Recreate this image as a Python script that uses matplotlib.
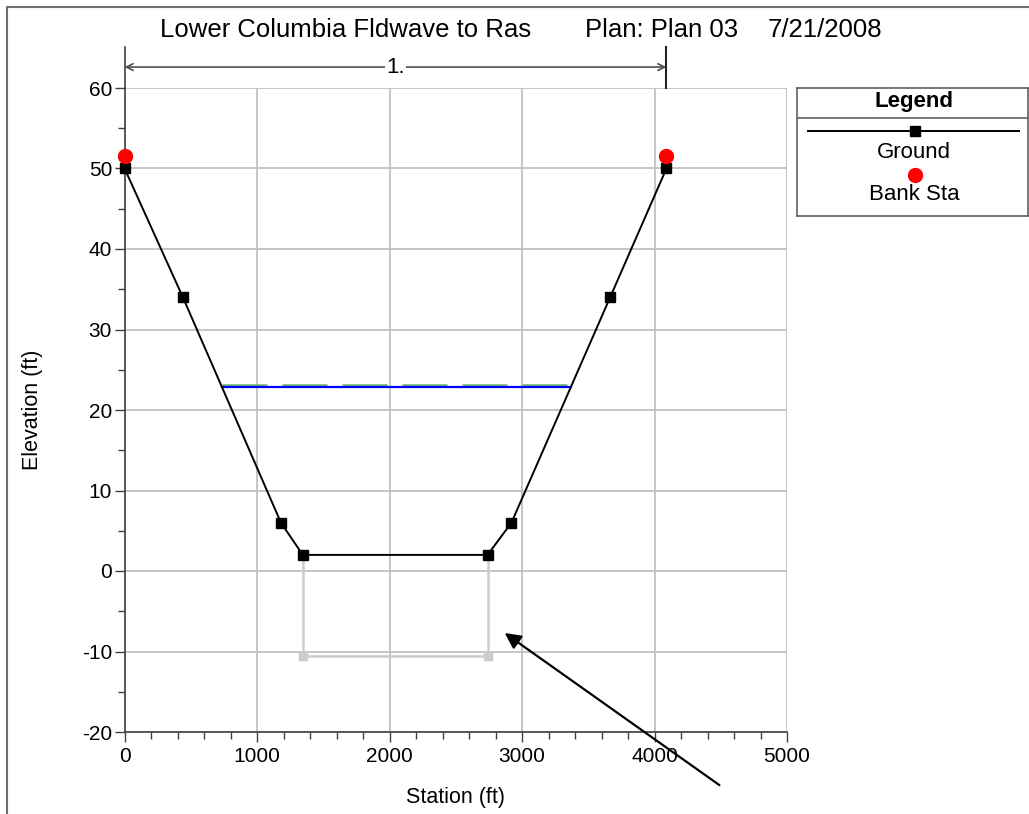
import numpy as np
import matplotlib
matplotlib.use('Agg')
import matplotlib.pyplot as plt
from matplotlib.lines import Line2D
from matplotlib.ticker import MultipleLocator

plt.rcParams['font.family'] = ['Liberation Sans', 'DejaVu Sans']
plt.rcParams['axes.unicode_minus'] = False

# cross section geometry
station = [0, 440, 1180, 1345, 2740, 2920, 3665, 4090]
ground = [50, 34, 6, 2, 2, 6, 34, 50]
bank_sta = [0, 4090]
bank_elev = [51.5, 51.5]

# lid / obstruction outline below the channel
lid_sta = [1345, 1345, 2740, 2740]
lid_elev = [2, -10.6, -10.6, 2]

ws_elev = 22.9
eg_elev = 23.05
reach_len_label = '1.'

title_parts = ['Lower Columbia Fldwave to Ras', 'Plan: Plan 03', '7/21/2008']

W, H = 1029, 814
fig = plt.figure(figsize=(W / 100, H / 100), dpi=100)

def px(x, y):
    return x / W, 1 - y / H

ax = fig.add_axes([124.6 / W, 1 - 732 / H, (787 - 124.6) / W, (732 - 88) / H])
ax.set_xlim(0, 5000)
ax.set_ylim(-20, 60)

ax.xaxis.set_major_locator(MultipleLocator(1000))
ax.xaxis.set_minor_locator(MultipleLocator(200))
ax.yaxis.set_major_locator(MultipleLocator(10))
ax.yaxis.set_minor_locator(MultipleLocator(5))
ax.grid(True, which='major', color='#c0c0c0', lw=1.3)
ax.set_axisbelow(True)
for s in ['top', 'right']:
    ax.spines[s].set_visible(False)
for s in ['left', 'bottom']:
    ax.spines[s].set_color('#404040')
    ax.spines[s].set_linewidth(1.2)
ax.tick_params(which='major', length=7, width=1, color='#404040', labelsize=15)
ax.tick_params(axis='x', which='major', pad=4)
ax.tick_params(axis='y', which='major', pad=2)
ax.tick_params(which='minor', length=5, width=1, color='#404040')

# water surface limits from where it crosses the ground
left_x = np.interp(ws_elev, ground[1:3][::-1], station[1:3][::-1])
right_x = np.interp(ws_elev, ground[5:7], station[5:7])
ax.plot([left_x, right_x], [eg_elev, eg_elev], color='#6cb36c', lw=1.8,
        dashes=(18, 6), zorder=3)
ax.plot([left_x, right_x], [ws_elev, ws_elev], color='#0000ff', lw=1.6, zorder=4)

ax.plot(lid_sta, lid_elev, color='#cccccc', lw=1.8, zorder=2)
ax.plot(lid_sta[1:3], lid_elev[1:3], 's', color='#cccccc', ms=6, zorder=2)

ax.plot(station, ground, color='black', lw=1.4, marker='s', ms=6.5, zorder=5,
        clip_on=False)
ax.plot(bank_sta, bank_elev, 'o', color='#ff0000', ms=10, zorder=6, clip_on=False)

ax.set_xlabel('Station (ft)', fontsize=15.5)
ax.set_ylabel('Elevation (ft)', fontsize=15.5)
ax.xaxis.set_label_coords((455 - 124.6) / (787 - 124.6), -(798 - 732) / (732 - 88))
ax.yaxis.set_label_coords(-(124.6 - 33) / (787 - 124.6), (732 - 410) / (732 - 88))
ax.xaxis.label.set_va('center')
ax.yaxis.label.set_va('center')

# reach length dimension above the plot
top = 65.1
ax.plot([0, 0], [60, top], color='#404040', lw=1.2, clip_on=False)
ax.plot([bank_sta[1], bank_sta[1]], [60, top], color='#202020', lw=1.5, clip_on=False)
ax.annotate('', xy=(0, 62.6), xytext=(bank_sta[1], 62.6),
            arrowprops=dict(arrowstyle='<->', color='#505050', lw=1.2,
                            shrinkA=0, shrinkB=0, mutation_scale=12),
            annotation_clip=False)
ax.text(bank_sta[1] / 2, 62.6, reach_len_label, fontsize=16, ha='center', va='center',
        bbox=dict(facecolor='white', edgecolor='none', pad=1), clip_on=False)

# pointer arrow
ax.annotate('', xy=(2869, -7.7), xytext=(4490, -26.6),
            arrowprops=dict(arrowstyle='-|>', color='black', lw=1.6,
                            mutation_scale=24, shrinkA=0, shrinkB=0),
            annotation_clip=False)

# title pieces
for txt, x in zip(title_parts, [160, 585, 768]):
    fig.text(*px(x, 30), txt, fontsize=18.5, ha='left', va='center')

# outer frame
fig.add_artist(Line2D([7 / W, 7 / W, 1], [0, 1 - 7 / H, 1 - 7 / H],
                      color='#707070', lw=1.5))

# legend panel
lg = fig.add_axes([797 / W, 1 - 216 / H, (1028 - 797) / W, 128 / H])
lg.set_xlim(797, 1028)
lg.set_ylim(216, 88)
lg.set_xticks([])
lg.set_yticks([])
for s in lg.spines.values():
    s.set_color('#606060')
    s.set_linewidth(1.2)
lg.text(914, 102, 'Legend', fontsize=16, fontweight='bold', ha='center', va='center')
lg.plot([797, 1028], [118, 118], color='#606060', lw=1.2)
lg.plot([808, 1019], [131, 131], color='black', lw=1.4)
lg.plot([915], [131], 's', color='black', ms=6.5)
lg.text(914, 152, 'Ground', fontsize=16, ha='center', va='center')
lg.plot([915], [175], 'o', color='#ff0000', ms=10)
lg.text(914, 194, 'Bank Sta', fontsize=16, ha='center', va='center')

fig.savefig('out.png', dpi=100)
